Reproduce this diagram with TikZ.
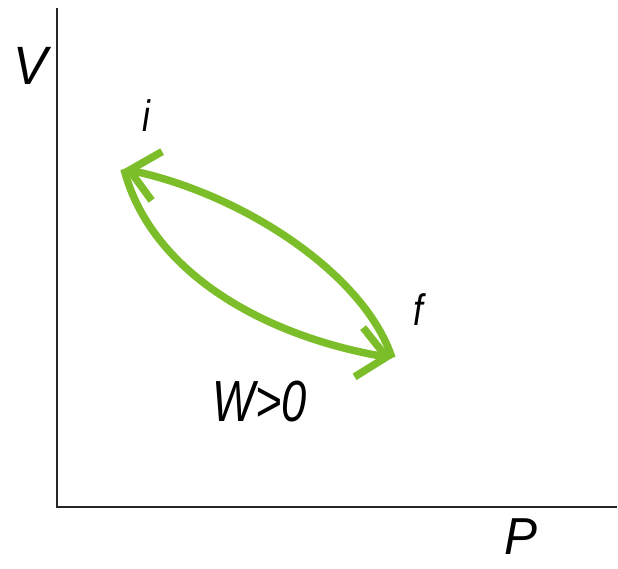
\documentclass[tikz,border=0pt]{standalone}
\usepackage{fontspec}
\setmainfont{Liberation Sans}
\usetikzlibrary{arrows.meta}
\definecolor{arcgreen}{RGB}{124,190,42}
\begin{document}
\begin{tikzpicture}[x=1pt,y=-1pt,
  axis/.style={line width=1.3pt,black!85},
  arc/.style={line width=7.5pt,arcgreen,-{Straight Barb[length=28pt,width=50pt,line width=7.5pt]}},
  lbl/.style={font=\itshape,inner sep=0pt,anchor=center}]
\useasboundingbox (0,0) rectangle (618,569);
\coordinate (top) at (57,8);
\coordinate (origin) at (57,507);
\coordinate (right) at (617,507);
\draw[axis] (top) -- (origin) -- (right);
\node[lbl,font=\itshape\fontsize{54}{54}\selectfont,xscale=0.95] (vlab) at (31,66) {V};
\node[lbl,font=\itshape\fontsize{52}{52}\selectfont,xscale=0.95] (plab) at (521,537) {P};
\node[lbl,font=\itshape\fontsize{44}{44}\selectfont,xscale=0.8] (ilab) at (146,116) {i};
\node[lbl,font=\itshape\fontsize{44}{44}\selectfont,xscale=0.8] (flab) at (418,310) {f};
\node[lbl,font=\itshape\fontsize{58}{58}\selectfont,xscale=0.78] (wlab) at (260,402) {W>0};
\coordinate (i) at (124,169);
\coordinate (f) at (392,358);
\draw[arc] (f) .. controls (365,275) and (245,195) .. (i);
\draw[arc] (i) .. controls (150,270) and (260,335) .. (f);
\end{tikzpicture}
\end{document}
